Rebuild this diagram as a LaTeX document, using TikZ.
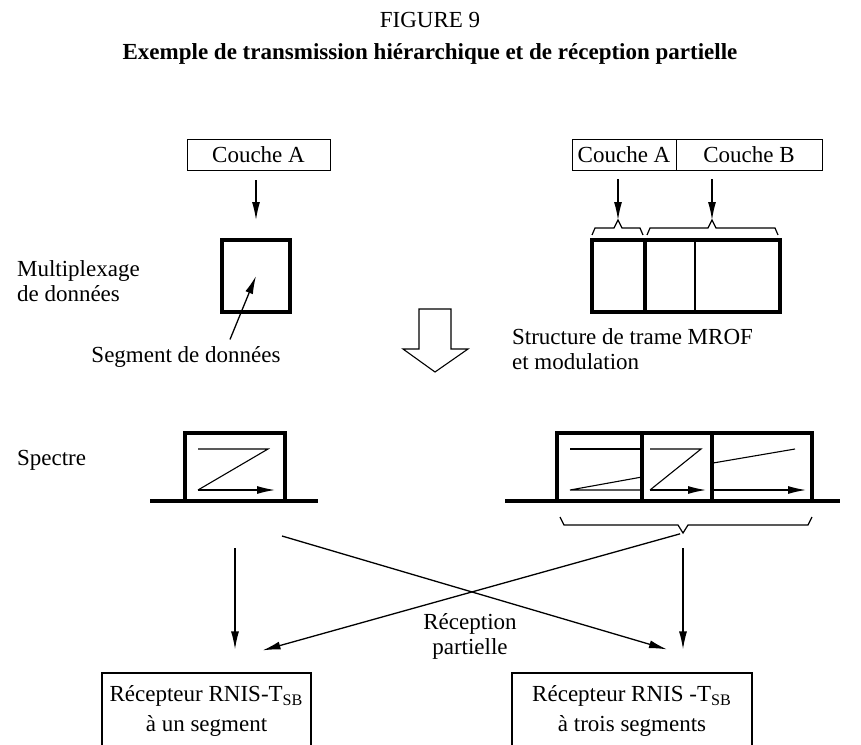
\documentclass[tikz,border=0pt]{standalone}
\usepackage{fontspec}
\setmainfont{Liberation Serif}
\usetikzlibrary{arrows.meta,positioning}
\tikzset{
  couche/.style = {draw, line width=0.5pt, minimum height=15.5pt, inner sep=0pt, outer sep=0pt},
  segm/.style   = {draw, line width=2pt, minimum height=34pt, inner sep=0pt, outer sep=0pt},
  recep/.style  = {draw, line width=0.6pt, minimum height=38pt, align=center, font=\fontsize{11.5}{15}\selectfont},
  trait/.style  = {line width=0.55pt},
  fleche/.style = {-{Latex[length=9pt,width=4pt]}, line width=0.65pt},
  accol/.style  = {line width=0.6pt},
  base/.style   = {line width=1.8pt},
}
\begin{document}
\begin{tikzpicture}[x=0.5pt,y=-0.5pt,font=\fontsize{11.5}{12.5}\selectfont]
  \useasboundingbox (0,0) rectangle (861,744);
  \node (fig) at (430,20) {FIGURE 9};
  \node[font=\fontsize{11.5}{12.5}\selectfont\bfseries] (titre) at (430,54) {Exemple de transmission hiérarchique et de réception partielle};

  % couche A seule
  \node[couche, minimum width=71.5pt] (coucheA) at (258.5,154.5) {Couche A};
  \node[segm, minimum width=34pt, minimum height=36pt] (segA) at (256,276) {};
  \draw[fleche, shorten <=5pt, shorten >=10pt] (segA.north |- coucheA.south) -- (segA.north);
  \node[anchor=west, align=left] (multi) at (10,281) {Multiplexage\\de données};
  \node (segtxt) at (186,357) {Segment de données};
  \draw[fleche] ([xshift=22pt]segtxt.north) -- (segA.center);

  % fleche creuse
  \draw[trait] (419,309) -- (451,309) -- (451,349) -- (468,349) -- (435,372) -- (403,349) -- (419,349) -- cycle;

  % couches A et B, trame MROF
  \node[couche, minimum width=52pt] (coucheA2) at (624,154.5) {Couche A};
  \node[couche, minimum width=73pt, right=0pt of coucheA2] (coucheB) {Couche B};
  \node[segm, minimum width=26.5pt, minimum height=36pt] (trA) at (618.5,276) {};
  \node[segm, minimum width=67.5pt, minimum height=36pt, right=0pt of trA] (trB) {};
  \draw[trait] ([xshift=25pt]trB.north west) -- ([xshift=25pt]trB.south west);
  \draw[accol] (592,235) -- (595,228) -- (614,228) -- (618,220) coordinate (pA) -- (622,228) -- (640,228) -- (643,235);
  \draw[accol] (647,235) -- (650,228) -- (708,228) -- (712,220) coordinate (pB) -- (716,228) -- (775,228) -- (778,235);
  \draw[fleche, shorten <=4.5pt] (coucheA2.south -| pA) -- (pA);
  \draw[fleche, shorten <=4.5pt] (coucheB.south -| pB) -- (pB);
  \node[anchor=west, align=left] (struct) at (505,349) {Structure de trame MROF\\et modulation};

  % spectres
  \node[anchor=west] (spectre) at (10,460) {Spectre};
  \node[segm, minimum width=50pt] (specA) at (235,467) {};
  \draw[base] ([xshift=-17.5pt]specA.south west) -- ([xshift=16.5pt]specA.south east);
  \draw[trait] (198,449) -- (268,449) -- (198,490);
  \draw[fleche] (198,490) -- (275,490);

  \node[segm, minimum width=42.5pt] (specB1) at (599.5,467) {};
  \node[segm, minimum width=35pt, right=0pt of specB1] (specB2) {};
  \node[segm, minimum width=50pt, right=0pt of specB2] (specB3) {};
  \draw[base] ([xshift=-26pt]specB1.south west) -- ([xshift=14pt]specB3.south east);
  \draw[trait] (570,449) -- (642,449);
  \draw[trait] (642,477) -- (570,490) -- (642,490);
  \draw[trait] (650,449) -- (701,449) -- (650,490);
  \draw[fleche] (650,490) -- (706,490);
  \draw[trait] (713,463) -- (795,449);
  \draw[fleche] (713,490) -- (806,490);
  \draw[accol] (560,517) -- (564,525) -- (678,525) -- (683,533) coordinate (pC) -- (688,525) -- (808,525) -- (812,517);

  % recepteurs
  \node[recep, minimum width=104.5pt] (recA) at (206.5,711) {Récepteur RNIS-T\textsubscript{SB}\\à un segment};
  \node[recep, minimum width=120pt] (recB) at (632,711) {Récepteur RNIS -T\textsubscript{SB}\\à trois segments};
  \draw[fleche, shorten <=23.5pt, shorten >=11.5pt] (specA.south) -- (specA.south |- recA.north);
  \draw[fleche, shorten <=7.5pt, shorten >=11.5pt] (pC) -- (pC |- recB.north);
  \draw[fleche] ([xshift=23.5pt,yshift=-17.5pt]specA.south) -- ([xshift=17.5pt,yshift=11.5pt]recB.north);
  \draw[fleche, shorten <=1.5pt] (pC) -- ([xshift=28pt,yshift=11pt]recA.north);
  \node[align=center] (partiel) at (470,636) {Réception\\partielle};
\end{tikzpicture}
\end{document}
